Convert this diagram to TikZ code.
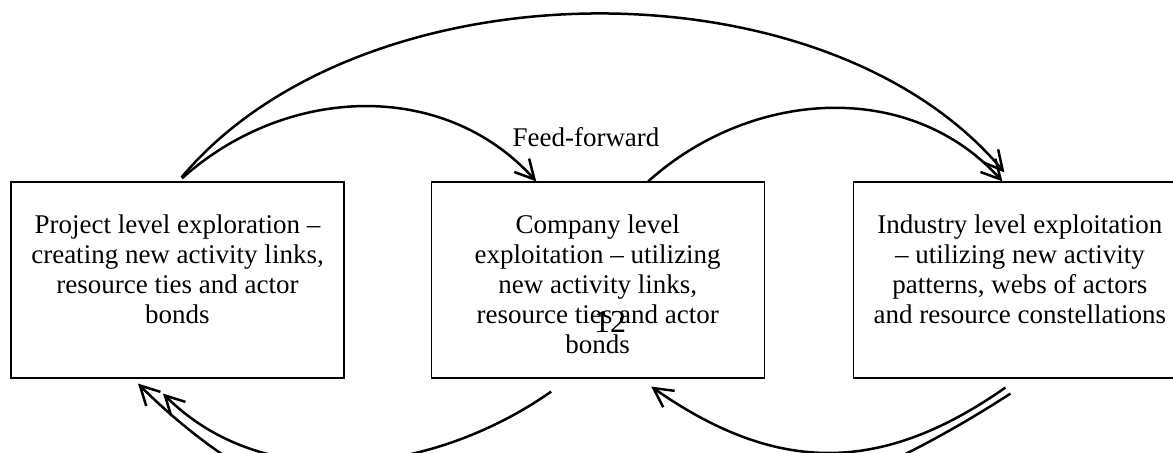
\documentclass[tikz,border=0pt]{standalone}
\usepackage{fontspec}
\setmainfont{Liberation Serif}
\usetikzlibrary{arrows.meta,positioning}

\begin{document}
\begin{tikzpicture}[x=0.5pt,y=0.5pt]
    % Styles for the level boxes, their text and the arcs
    \tikzset{
        lvl_box/.style={draw, rectangle, line width=0.6pt, minimum width=166.5pt, minimum height=98pt, inner sep=0pt},
        lvl_text/.style={align=center, inner sep=0pt, font=\fontsize{13.5}{15}\selectfont},
        arc_line/.style={line width=1.25pt, -{Straight Barb[length=9.5pt,width=10pt]}}
    }

    \useasboundingbox (0,0) rectangle (1173,453);
    \clip (0,0) rectangle (1173,453);

    % The three levels
    \node[lvl_box] (proj) at (177.5,173) {};
    \node[lvl_box, right=43pt of proj] (comp) {};
    \node[lvl_box, right=44pt of comp] (ind) {};

    \node[lvl_text, below=16.5pt of proj.north] (proj_txt) {Project level exploration --\\creating new activity links,\\resource ties and actor\\bonds};
    \node[lvl_text, below=16.5pt of comp.north] (comp_txt) {Company level\\exploitation -- utilizing\\new activity links,\\resource ties and actor\\bonds};
    \node[lvl_text, below=16.5pt of ind.north] (ind_txt) {Industry level exploitation\\-- utilizing new activity\\patterns, webs of actors\\and resource constellations};

    \node[lvl_text] (ff) at (586,316) {Feed-forward};
    \node[inner sep=0pt, font=\fontsize{16}{18}\selectfont] (num) at (610,131) {12};

    % Feed-forward arcs over the top
    \draw[arc_line] ([xshift=2.25pt,yshift=1.5pt]proj.north) to[out=42,in=132] ([xshift=-30.75pt]comp.north);
    \draw[arc_line] ([xshift=2pt,yshift=2pt]proj.north) to[out=50,in=130,looseness=0.87] ([xshift=-7.75pt,yshift=4.5pt]ind.north);
    \draw[arc_line] ([xshift=25.25pt]comp.north) to[out=42,in=132] ([xshift=-8.75pt]ind.north);

    % Feedback arcs underneath
    \draw[arc_line] ([xshift=-7.25pt,yshift=-4.5pt]ind.south) to[out=-145,in=-35,looseness=1.1] ([xshift=26.75pt,yshift=-4pt]comp.south);
    \draw[arc_line] ([xshift=-23.25pt,yshift=-6.5pt]comp.south) to[out=-145,in=-45,looseness=0.95] ([xshift=-7.25pt,yshift=-7.5pt]proj.south);
    \draw[arc_line] ([xshift=-4.75pt,yshift=-7.5pt]ind.south) to[out=-147,in=-45] ([xshift=-19.75pt,yshift=-2.5pt]proj.south);
\end{tikzpicture}
\end{document}
